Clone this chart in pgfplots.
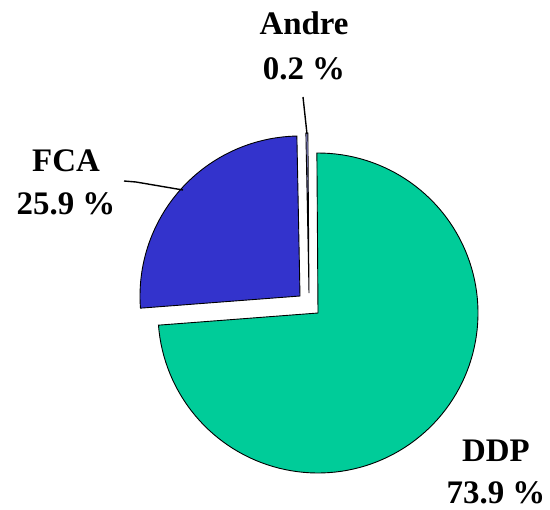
\documentclass[border=0pt]{standalone}
\usepackage{pgfplots}
\usepackage{pgfplotstable}
\pgfplotsset{compat=1.18}
\usepackage{fontspec}
\setmainfont{Liberation Serif}
\definecolor{ddp}{HTML}{00CC99}
\definecolor{fca}{HTML}{3333CC}
\definecolor{andre}{HTML}{A3A3F0}
\pgfplotstableread{
label value
DDP 73.9
FCA 25.9
Andre 0.2
}\piedata
\pgfplotstablegetelem{0}{value}\of\piedata \let\vDDP\pgfplotsretval
\pgfplotstablegetelem{1}{value}\of\piedata \let\vFCA\pgfplotsretval
\pgfplotstablegetelem{2}{value}\of\piedata \let\vAndre\pgfplotsretval
\pgfmathsetmacro{\aStart}{90.4}
\pgfmathsetmacro{\aDDPend}{\aStart-3.6*\vDDP}
\pgfmathsetmacro{\aAndreEnd}{\aStart+3.6*\vAndre}
\pgfmathsetmacro{\aFCAend}{\aAndreEnd+3.6*\vFCA}
\begin{document}
\begin{tikzpicture}
\begin{axis}[hide axis, scale only axis, width=550bp, height=510bp,
  xmin=0, xmax=550, ymin=0, ymax=510, y dir=reverse, clip=false]
\path (rel axis cs:0,0) rectangle (rel axis cs:1,1);
% DDP
\addplot[fill=ddp, draw=black, line width=0.9pt, domain=\aDDPend:\aStart, samples=120, variable=\t]
  ({318+160*cos(\t)},{313-160*sin(\t)}) -- (axis cs:318,313) -- cycle;
% FCA
\addplot[fill=fca, draw=black, line width=0.9pt, domain=\aAndreEnd:\aFCAend, samples=60, variable=\t]
  ({300+160*cos(\t)},{296-160*sin(\t)}) -- (axis cs:300,296) -- cycle;
% Andre
\addplot[fill=andre, draw=black, line width=0.9pt, domain=\aStart:\aAndreEnd, samples=4, variable=\t]
  ({309+160*cos(\t)},{293-160*sin(\t)}) -- (axis cs:309,293) -- cycle;
% leader lines
\addplot[black, line width=1.4pt] coordinates {(303,97) (307,134)};
\addplot[black, line width=1.4pt] coordinates {(124,181) (136,182) (183,190)};
% labels
\begin{scope}[every node/.style={font=\bfseries\fontsize{33}{40}\selectfont, inner sep=0pt, anchor=base}]
\node at (axis cs:304,35) {Andre};
\node at (axis cs:304,80) {0.2 \%};
\node at (axis cs:66,172) {FCA};
\node at (axis cs:66,215) {25.9 \%};
\node at (axis cs:496,461) {DDP};
\node at (axis cs:496,503) {73.9 \%};
\end{scope}
\end{axis}
\end{tikzpicture}
\end{document}
